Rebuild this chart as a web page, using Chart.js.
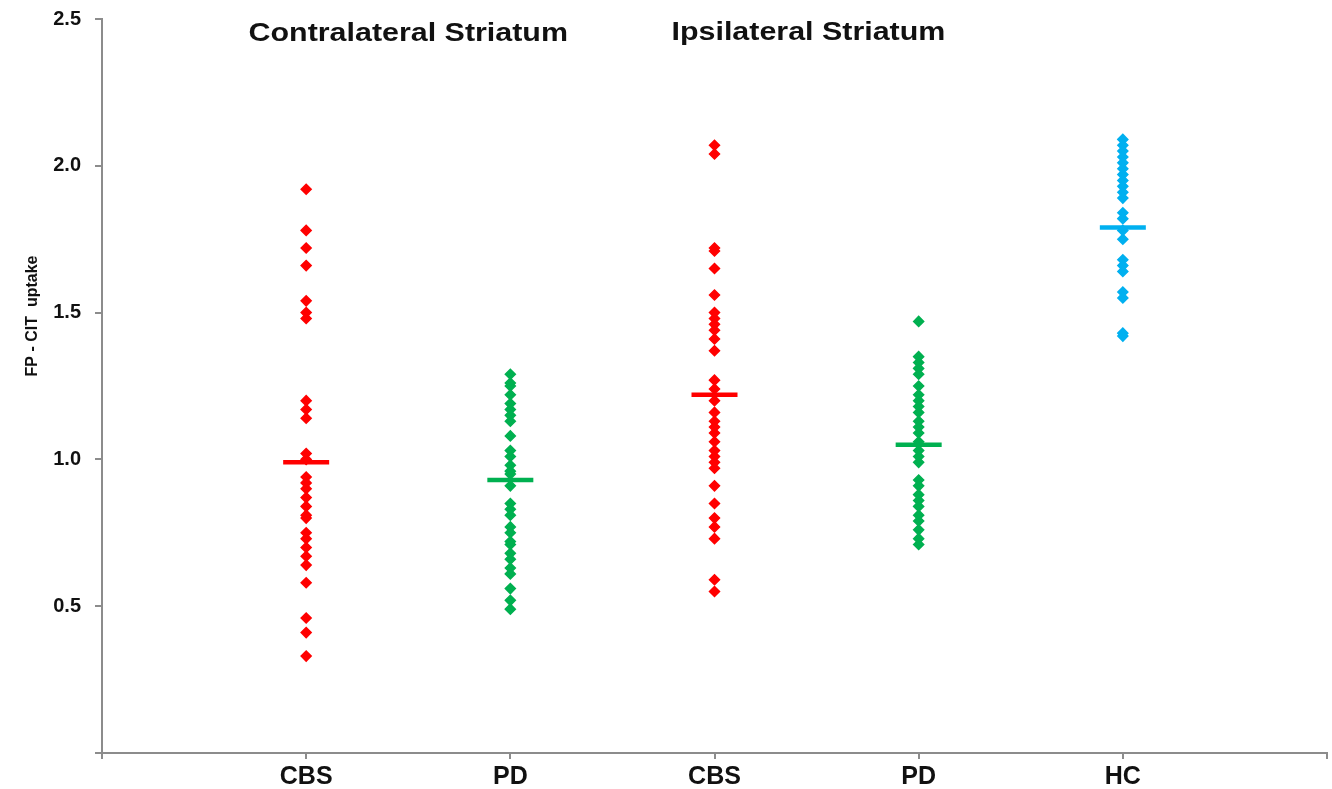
<!DOCTYPE html>
<html>
<head>
<meta charset="utf-8">
<script src="https://cdn.jsdelivr.net/npm/chart.js@4"></script>
<style>
  body { margin: 0; background: #fff; }
  #grafico { display: block; }
</style>
</head>
<body>
<canvas id="grafico" width="1332" height="789"></canvas>
<script>
// categorias do eixo x (posições 1..5)
const categorias = ['CBS', 'PD', 'CBS', 'PD', 'HC']
const titulosGrupos = ['Contralateral Striatum', 'Ipsilateral Striatum']
const ticksY = [0.5, 1.0, 1.5, 2.0, 2.5]

// valores
const contraCBS = [1.92, 1.78, 1.72, 1.66, 1.54, 1.50, 1.48, 1.20, 1.17, 1.14, 1.02, 1.00,
    0.94, 0.92, 0.90, 0.87, 0.84, 0.81, 0.80, 0.75, 0.73, 0.70, 0.67, 0.64, 0.58, 0.46, 0.41, 0.33]
const contraPD = [1.29, 1.26, 1.25, 1.22, 1.19, 1.17, 1.15, 1.13, 1.08, 1.03, 1.01, 0.98, 0.96,
    0.95, 0.91, 0.85, 0.83, 0.81, 0.77, 0.75, 0.72, 0.71, 0.68, 0.66, 0.63, 0.61, 0.56, 0.52, 0.49]
const ipsiCBS = [2.07, 2.04, 1.72, 1.71, 1.65, 1.56, 1.50, 1.48, 1.46, 1.44, 1.41, 1.37, 1.27,
    1.24, 1.20, 1.16, 1.13, 1.11, 1.09, 1.06, 1.03, 1.01, 0.99, 0.97, 0.91, 0.85, 0.80, 0.77,
    0.73, 0.59, 0.55]
const ipsiPD = [1.47, 1.35, 1.33, 1.31, 1.29, 1.25, 1.22, 1.20, 1.18, 1.16, 1.13, 1.11, 1.09,
    1.06, 1.03, 1.01, 0.99, 0.93, 0.91, 0.88, 0.86, 0.84, 0.81, 0.79, 0.76, 0.73, 0.71]
const hc = [2.09, 2.07, 2.05, 2.03, 2.01, 1.99, 1.97, 1.95, 1.93, 1.91, 1.89, 1.84, 1.82,
    1.78, 1.75, 1.68, 1.66, 1.64, 1.57, 1.55, 1.43, 1.42]
const medias = [0.99, 0.93, 1.22, 1.05, 1.79]

const grupos = [contraCBS, contraPD, ipsiCBS, ipsiPD, hc]
const cores = ['#ff0000', '#00b050', '#ff0000', '#00b050', '#00b0f0']

const fonte = "'Liberation Sans', Arial, sans-serif"
const cinza = '#8c8c8c'

const datasets = []
grupos.forEach(function (valores, i) {
    datasets.push({
        data: valores.map(v => ({ x: i + 1, y: v })),
        pointStyle: 'rectRot',
        pointRadius: 5,
        backgroundColor: cores[i],
        borderColor: cores[i],
        borderWidth: 1.5,
        showLine: false
    })
})
medias.forEach(function (m, i) {
    datasets.push({
        data: [{ x: i + 1, y: m }],
        pointStyle: 'line',
        pointRadius: 23,
        borderColor: cores[i],
        borderWidth: 4.5,
        showLine: false
    })
})

// texto esticado na horizontal, como na figura original
function textoEsticado(ctx, texto, x, y, esticar) {
    ctx.save()
    ctx.translate(x, y)
    ctx.scale(esticar, 1)
    ctx.fillText(texto, 0, 0)
    ctx.restore()
}

// textos extra: títulos dos grupos e rótulo do eixo y
const textosExtras = {
    id: 'textosExtras',
    afterDraw(chart) {
        const ctx = chart.ctx
        const x = chart.scales.x
        ctx.save()
        ctx.fillStyle = '#111'
        ctx.font = 'bold 26px ' + fonte
        ctx.textAlign = 'center'
        ctx.textBaseline = 'middle'
        textoEsticado(ctx, titulosGrupos[0], x.getPixelForValue(1.5), 34, 1.17)
        textoEsticado(ctx, titulosGrupos[1], x.getPixelForValue(3.46), 33, 1.17)
        ctx.translate(33, 316)
        ctx.rotate(-Math.PI / 2)
        ctx.font = 'bold 16px ' + fonte
        ctx.fillText('FP - CIT  uptake', 0, 0)
        ctx.restore()
    }
}

new Chart(document.getElementById('grafico'), {
    type: 'scatter',
    data: { datasets: datasets },
    options: {
        responsive: false,
        animation: false,
        events: [],
        layout: { autoPadding: false, padding: { top: 19, right: 5, left: 0, bottom: 0 } },
        plugins: { legend: { display: false }, tooltip: { enabled: false } },
        scales: {
            x: {
                type: 'linear',
                min: 0,
                max: 6,
                afterFit: s => { s.height = 36 },
                afterBuildTicks: s => { s.ticks = [0, 1, 2, 3, 4, 5, 6].map(v => ({ value: v })) },
                ticks: {
                    autoSkip: false,
                    padding: 3,
                    color: '#111',
                    font: { family: fonte, size: 25, weight: 'bold' },
                    callback: v => categorias[v - 1] || ''
                },
                grid: { drawOnChartArea: false, tickLength: 6, color: cinza, lineWidth: 2 },
                border: { color: cinza, width: 2 }
            },
            y: {
                min: 0,
                max: 2.5,
                afterFit: s => { s.width = 102; s.paddingTop = 0; s.paddingBottom = 0 },
                afterBuildTicks: s => { s.ticks = [0].concat(ticksY).map(v => ({ value: v })) },
                ticks: {
                    padding: 14,
                    color: '#111',
                    font: { family: fonte, size: 20, weight: 'bold' },
                    callback: v => v === 0 ? '' : v.toFixed(1)
                },
                grid: { drawOnChartArea: false, tickLength: 7, color: cinza, lineWidth: 2 },
                border: { color: cinza, width: 2 }
            }
        }
    },
    plugins: [textosExtras]
})
</script>
</body>
</html>
